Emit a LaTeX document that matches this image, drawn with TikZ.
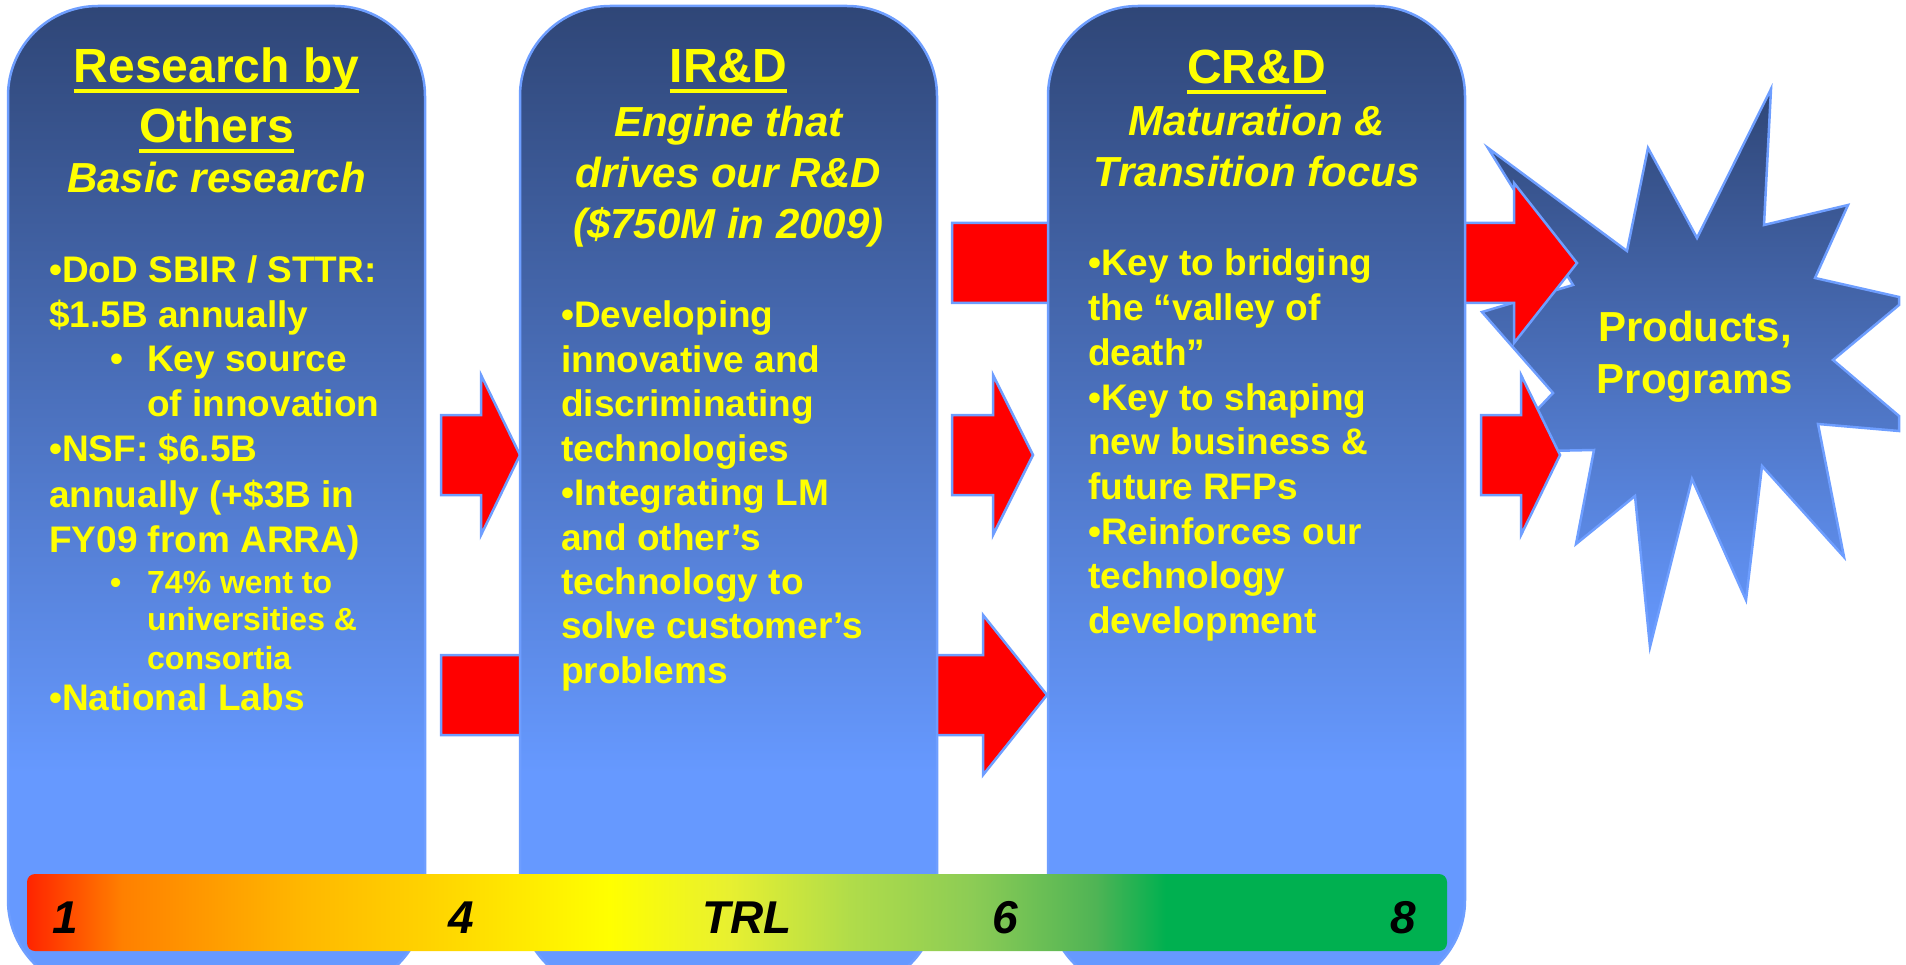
\documentclass[tikz,border=0pt]{standalone}
\usepackage{fontspec}
\setmainfont{Liberation Sans}
\definecolor{dkblue}{HTML}{2F4677}
\definecolor{ltblue}{HTML}{6699FF}
\definecolor{edgeblue}{HTML}{6E9EFF}
\definecolor{txtyellow}{HTML}{FFFF00}
\definecolor{b0}{HTML}{FF2400}
\definecolor{b1}{HTML}{FF8000}
\definecolor{b2}{HTML}{FFB800}
\definecolor{b3}{HTML}{FFD200}
\definecolor{b4}{HTML}{FFFF00}
\definecolor{b5}{HTML}{E8F030}
\definecolor{b6}{HTML}{B0DC4A}
\definecolor{b7}{HTML}{8CCC55}
\definecolor{b8}{HTML}{50B455}
\definecolor{b9}{HTML}{00B050}
\pgfdeclareverticalshading{colshade}{100bp}{color(0bp)=(ltblue); color(36bp)=(ltblue); color(75bp)=(dkblue); color(100bp)=(dkblue)}
\pgfdeclarehorizontalshading{trlshade}{100bp}{color(0bp)=(b0); color(25bp)=(b0); color(28.35bp)=(b1); color(34.75bp)=(b2); color(39bp)=(b3); color(45.5bp)=(b4); color(49.7bp)=(b5); color(54bp)=(b6); color(58.3bp)=(b7); color(62.6bp)=(b8); color(65.1bp)=(b9); color(75bp)=(b9); color(100bp)=(b9)}
\tikzset{
  colbox/.style={draw=edgeblue, line width=2.5pt, shading=colshade, rounded corners=90pt, minimum width=417pt, minimum height=984pt, inner sep=0pt},
  blockarrow/.style={fill=red, draw=edgeblue, line width=2.5pt, line join=miter},
  starshape/.style={draw=edgeblue, line width=2.5pt, top color=dkblue, bottom color=ltblue, line join=miter},
  trlbar/.style={shading=trlshade, rounded corners=8pt, minimum width=1420pt, minimum height=77pt, inner sep=0pt},
  ttl/.style={inner sep=0pt, text=txtyellow, font=\fontsize{48}{58}\selectfont\bfseries, anchor=base},
  subt/.style={inner sep=0pt, text=txtyellow, font=\fontsize{42}{51}\selectfont\bfseries\itshape, anchor=base},
  startxt/.style={inner sep=0pt, text=txtyellow, font=\fontsize{42}{51}\selectfont\bfseries, anchor=base},
  bodytxt/.style={inner sep=0pt, text=txtyellow, font=\fontsize{37}{44}\selectfont\bfseries, anchor=base west},
  smalltxt/.style={inner sep=0pt, text=txtyellow, font=\fontsize{32}{38}\selectfont\bfseries, anchor=base west},
  trlnum/.style={inner sep=0pt, text=black, font=\fontsize{46}{50}\selectfont\bfseries\itshape, anchor=base},
  uline/.style={draw=txtyellow, line width=4pt},
}
\newcommand\blockarr[4]{\draw[blockarrow] (#1,#4-40) -- (#2,#4-40) -- (#2,#4-80) -- (#3,#4) -- (#2,#4+80) -- (#2,#4+40) -- (#1,#4+40) -- cycle;}
\begin{document}
\begin{tikzpicture}[x=1pt,y=-1pt]
\useasboundingbox (0,0) rectangle (1906,965);
\clip (0,0) rectangle (1906,965);
% star
\path[starshape] (1488,148) -- (1627,251) -- (1648,148) -- (1697,238) -- (1771,89) -- (1764,225) -- (1848,205) -- (1815,278) -- (1899,297) -- (1899,305) -- (1833,360) -- (1899,416) -- (1899,431) -- (1818,424) -- (1844,557) -- (1762,466) -- (1746,600) -- (1692,479) -- (1650,647) -- (1635,496) -- (1576,544) -- (1594,450) -- (1497,452) -- (1553,393) -- (1482,312) -- (1573,285) -- cycle;
% arrows
\blockarr{441}{481}{520}{455}
\blockarr{441}{560}{600}{695}
\blockarr{952}{1070}{1110}{263}
\blockarr{952}{993}{1033}{455}
\blockarr{900}{983}{1047}{695}
\blockarr{1440}{1514}{1577}{263}
\blockarr{1481}{1521}{1560}{455}
% columns
\node[colbox] (col1) at (216.5,498) {};
\node[colbox] (col2) at (728.5,498) {};
\node[colbox] (col3) at (1256.5,498) {};
% TRL bar
\node[trlbar] (trl) at (737,912.5) {};
\node[trlnum] (n1) at (65,933) {1};
\node[trlnum] (n4) at (461,933) {4};
\node[trlnum] (ntrl) at (747,933) {TRL};
\node[trlnum] (n6) at (1005,933) {6};
\node[trlnum] (n8) at (1403,933) {8};
% column 1
\node[ttl] (t1a) at (216.5,83) {Research by};
\draw[uline] ([yshift=-8pt]t1a.base west) -- ([yshift=-8pt]t1a.base east);
\node[ttl] (t1b) at (216.5,143) {Others};
\draw[uline] ([yshift=-8pt]t1b.base west) -- ([yshift=-8pt]t1b.base east);
\node[subt] (s1) at (216.5,193) {Basic research};
\node[bodytxt] (a1) at (49,283) {•DoD SBIR / STTR:};
\node[bodytxt] (a2) at (49,328) {\$1.5B annually};
\node[bodytxt] (a3) at (110,372) {\makebox[37pt][l]{•}Key source};
\node[bodytxt] (a4) at (147,417) {of innovation};
\node[bodytxt] (a5) at (49,461) {•NSF: \$6.5B};
\node[bodytxt] (a6) at (49,507) {annually (+\$3B in};
\node[bodytxt] (a7) at (49,552) {FY09 from ARRA)};
\node[smalltxt] (a8) at (110,593) {\makebox[37pt][l]{•}74\% went to};
\node[smalltxt] (a9) at (147,630) {universities \&};
\node[smalltxt] (a10) at (147,669) {consortia};
\node[bodytxt] (a11) at (49,710) {•National Labs};
% column 2
\node[ttl] (t2) at (728.5,83) {IR\&D};
\draw[uline] ([yshift=-8pt]t2.base west) -- ([yshift=-8pt]t2.base east);
\node[subt] (s2a) at (728.5,137) {Engine that};
\node[subt] (s2b) at (728.5,188) {drives our R\&D};
\node[subt] (s2c) at (728.5,239) {(\$750M in 2009)};
\node[bodytxt] (b1) at (561,328) {•Developing};
\node[bodytxt] (b2) at (561,372.4) {innovative and};
\node[bodytxt] (b3) at (561,416.8) {discriminating};
\node[bodytxt] (b4) at (561,461.2) {technologies};
\node[bodytxt] (b5) at (561,505.6) {•Integrating LM};
\node[bodytxt] (b6) at (561,550) {and other’s};
\node[bodytxt] (b7) at (561,594.4) {technology to};
\node[bodytxt] (b8) at (561,638.8) {solve customer’s};
\node[bodytxt] (b9) at (561,683.2) {problems};
% column 3
\node[ttl] (t3) at (1256.5,84) {CR\&D};
\draw[uline] ([yshift=-8pt]t3.base west) -- ([yshift=-8pt]t3.base east);
\node[subt] (s3a) at (1256.5,136) {Maturation \&};
\node[subt] (s3b) at (1256.5,187) {Transition focus};
\node[bodytxt] (c1) at (1088,276) {•Key to bridging};
\node[bodytxt] (c2) at (1088,320.7) {the “valley of};
\node[bodytxt] (c3) at (1088,365.4) {death”};
\node[bodytxt] (c4) at (1088,410.1) {•Key to shaping};
\node[bodytxt] (c5) at (1088,454.8) {new business \&};
\node[bodytxt] (c6) at (1088,499.5) {future RFPs};
\node[bodytxt] (c7) at (1088,544.2) {•Reinforces our};
\node[bodytxt] (c8) at (1088,588.9) {technology};
\node[bodytxt] (c9) at (1088,633.6) {development};
% star text
\node[startxt] (p1) at (1695,342) {Products,};
\node[startxt] (p2) at (1695,393) {Programs};
\end{tikzpicture}
\end{document}
